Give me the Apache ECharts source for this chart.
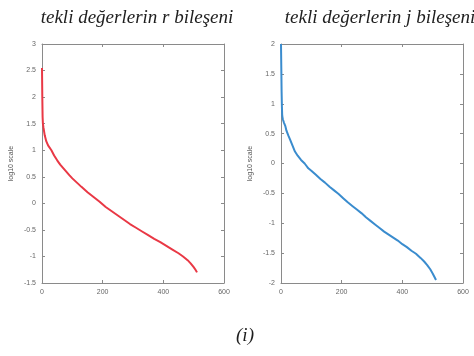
<!DOCTYPE html>
<html>
<head>
<meta charset="utf-8">
<script src="https://cdn.jsdelivr.net/npm/echarts@6/dist/echarts.min.js"></script>
<style>
html,body{margin:0;padding:0;background:#fff;}
#c{width:474px;height:356px;}
</style>
</head>
<body>
<div id="c"></div>
<script>
// Left panel: r component (index, log10 value)
const rIndex = [0,1,2,3,5,9,14,20,31,40,50,60,75,90,100,115,130,150,170,190,210,230,250,270,290,310,330,350,370,390,410,430,450,465,480,490,500,506,511];
const rValues = [2.55,2.0,1.62,1.5,1.42,1.28,1.17,1.09,1.0,0.9,0.81,0.73,0.63,0.53,0.47,0.39,0.31,0.21,0.12,0.03,-0.07,-0.15,-0.23,-0.31,-0.39,-0.46,-0.53,-0.60,-0.67,-0.73,-0.80,-0.87,-0.94,-1.00,-1.07,-1.13,-1.20,-1.25,-1.30];
// Right panel: j component
const jIndex = [0,1,2,3,4,6,10,14,18,24,30,38,46,55,66,78,90,100,115,130,145,160,175,190,205,220,235,250,265,280,295,310,325,340,355,370,385,400,415,430,445,460,472,482,492,500,506,511];
const jValues = [2.0,1.6,1.2,0.95,0.8,0.74,0.68,0.63,0.55,0.47,0.40,0.30,0.20,0.13,0.06,0.00,-0.08,-0.12,-0.19,-0.26,-0.32,-0.39,-0.45,-0.51,-0.58,-0.65,-0.71,-0.77,-0.83,-0.90,-0.96,-1.02,-1.08,-1.14,-1.19,-1.24,-1.29,-1.35,-1.40,-1.46,-1.51,-1.58,-1.64,-1.70,-1.77,-1.84,-1.90,-1.95];

const titles = ['tekli değerlerin r bileşeni', 'tekli değerlerin j bileşeni'];
const yAxisName = 'log10 scale';
const xTicks = {min: 0, max: 600, interval: 200};
const yLeft = {min: -1.5, max: 3, interval: 0.5};
const yRight = {min: -2, max: 2, interval: 0.5};

const axisColor = '#8a8a8a';
const labelStyle = {color: '#666', fontSize: 7, fontFamily: 'Liberation Sans'};

function xAx(gi, pos, showLabel) {
  return {
    type: 'value', gridIndex: gi, position: pos,
    min: xTicks.min, max: xTicks.max, interval: xTicks.interval,
    axisLine: {show: true, onZero: false, lineStyle: {color: axisColor, width: 1}},
    axisTick: {show: true, inside: true, length: 3, lineStyle: {color: axisColor}},
    axisLabel: Object.assign({show: showLabel, margin: 6}, labelStyle),
    splitLine: {show: false}
  };
}
function yAx(gi, pos, showLabel, rng, name) {
  return {
    type: 'value', gridIndex: gi, position: pos,
    min: rng.min, max: rng.max, interval: rng.interval,
    name: name || '', nameLocation: 'middle', nameGap: 27,
    nameTextStyle: {color: '#555', fontSize: 7, fontFamily: 'Liberation Sans'},
    axisLine: {show: true, onZero: false, lineStyle: {color: axisColor, width: 1}},
    axisTick: {show: true, inside: true, length: 3, lineStyle: {color: axisColor}},
    axisLabel: Object.assign({show: showLabel, margin: 6}, labelStyle),
    splitLine: {show: false}
  };
}

const titleStyle = {fontFamily: 'Liberation Serif', fontStyle: 'italic', fontWeight: 'normal', fontSize: 19, color: '#1e1e1e'};

const chart = echarts.init(document.getElementById('c'), null, {renderer: 'canvas'});
chart.setOption({
  animation: false,
  backgroundColor: '#fff',
  title: [
    {text: titles[0], left: 132, top: 3, textAlign: 'center', textStyle: titleStyle},
    {text: titles[1], left: 375, top: 3, textAlign: 'center', textStyle: titleStyle},
    {text: '(i)', left: 240, top: 321, textAlign: 'center', textStyle: titleStyle}
  ],
  grid: [
    {left: 42, top: 44, width: 182, height: 239},
    {left: 281, top: 44, width: 182, height: 239}
  ],
  xAxis: [xAx(0, 'bottom', true), xAx(0, 'top', false), xAx(1, 'bottom', true), xAx(1, 'top', false)],
  yAxis: [yAx(0, 'left', true, yLeft, yAxisName), yAx(0, 'right', false, yLeft),
          yAx(1, 'left', true, yRight, yAxisName), yAx(1, 'right', false, yRight)],
  series: [
    {type: 'line', xAxisIndex: 0, yAxisIndex: 0, showSymbol: false,
     lineStyle: {color: '#e93845', width: 2}, data: rIndex.map((x, i) => [x, rValues[i]])},
    {type: 'line', xAxisIndex: 2, yAxisIndex: 2, showSymbol: false,
     lineStyle: {color: '#3a8cce', width: 2}, data: jIndex.map((x, i) => [x, jValues[i]])}
  ]
});
</script>
</body>
</html>
